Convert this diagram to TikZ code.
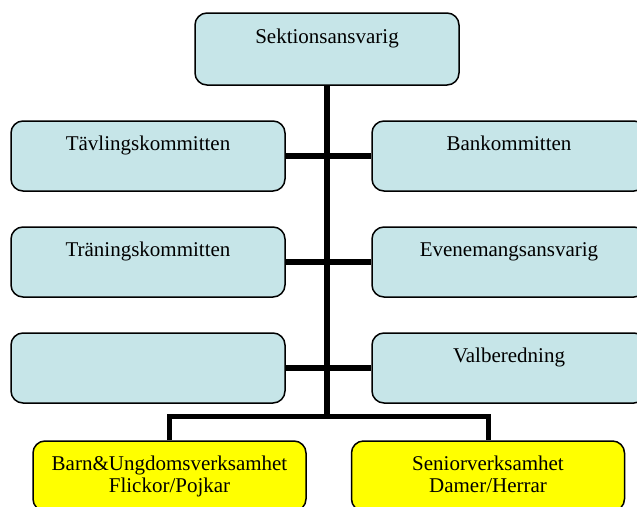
\documentclass[tikz,border=0pt]{standalone}
\usepackage{fontspec}
\setmainfont{Liberation Serif}
\definecolor{boxblue}{RGB}{198,229,232}
\definecolor{boxyellow}{RGB}{255,255,0}

\begin{document}
\begin{tikzpicture}[x=1pt,y=-1pt,
    box/.style={draw=black,line width=1.5pt,rounded corners=12pt,align=center,
        inner xsep=0pt,inner ysep=0pt,text height=29pt,text depth=41pt,
        font=\fontsize{21}{22.5}\selectfont},
    bluebox/.style={box,fill=boxblue,minimum width=274pt},
    yellowbox/.style={box,fill=boxyellow,minimum width=273pt,text height=51.5pt,text depth=18.5pt},
    link/.style={line width=6.5pt},
    sublink/.style={line width=5pt}]
    \useasboundingbox (0,0) rectangle (637,506);

    % Top
    \node[bluebox,minimum width=264pt,text height=30pt,text depth=42pt] (sekt) at (327,49) {Sektionsansvarig};

    % Committees
    \node[bluebox] (tavl) at (148,156) {Tävlingskommitten};
    \node[bluebox] (bank) at (509,156) {Bankommitten};
    \node[bluebox] (tran) at (148,262) {Träningskommitten};
    \node[bluebox] (even) at (509,262) {Evenemangsansvarig};
    \node[bluebox] (tom) at (148,368) {};
    \node[bluebox] (valb) at (509,368) {Valberedning};

    % Activities
    \node[yellowbox] (barn) at (169.5,476) {Barn\&Ungdomsverksamhet\\Flickor/Pojkar};
    \node[yellowbox] (senior) at (488,476) {Seniorverksamhet\\Damer/Herrar};

    % Connectors
    \coordinate (fork) at (327,416);
    \draw[link] (sekt.south) -- (fork);
    \draw[link] (tavl.east) -- (bank.west);
    \draw[link] (tran.east) -- (even.west);
    \draw[link] (tom.east) -- (valb.west);
    \draw[sublink] (barn.north) |- (fork) -| (senior.north);
\end{tikzpicture}
\end{document}
